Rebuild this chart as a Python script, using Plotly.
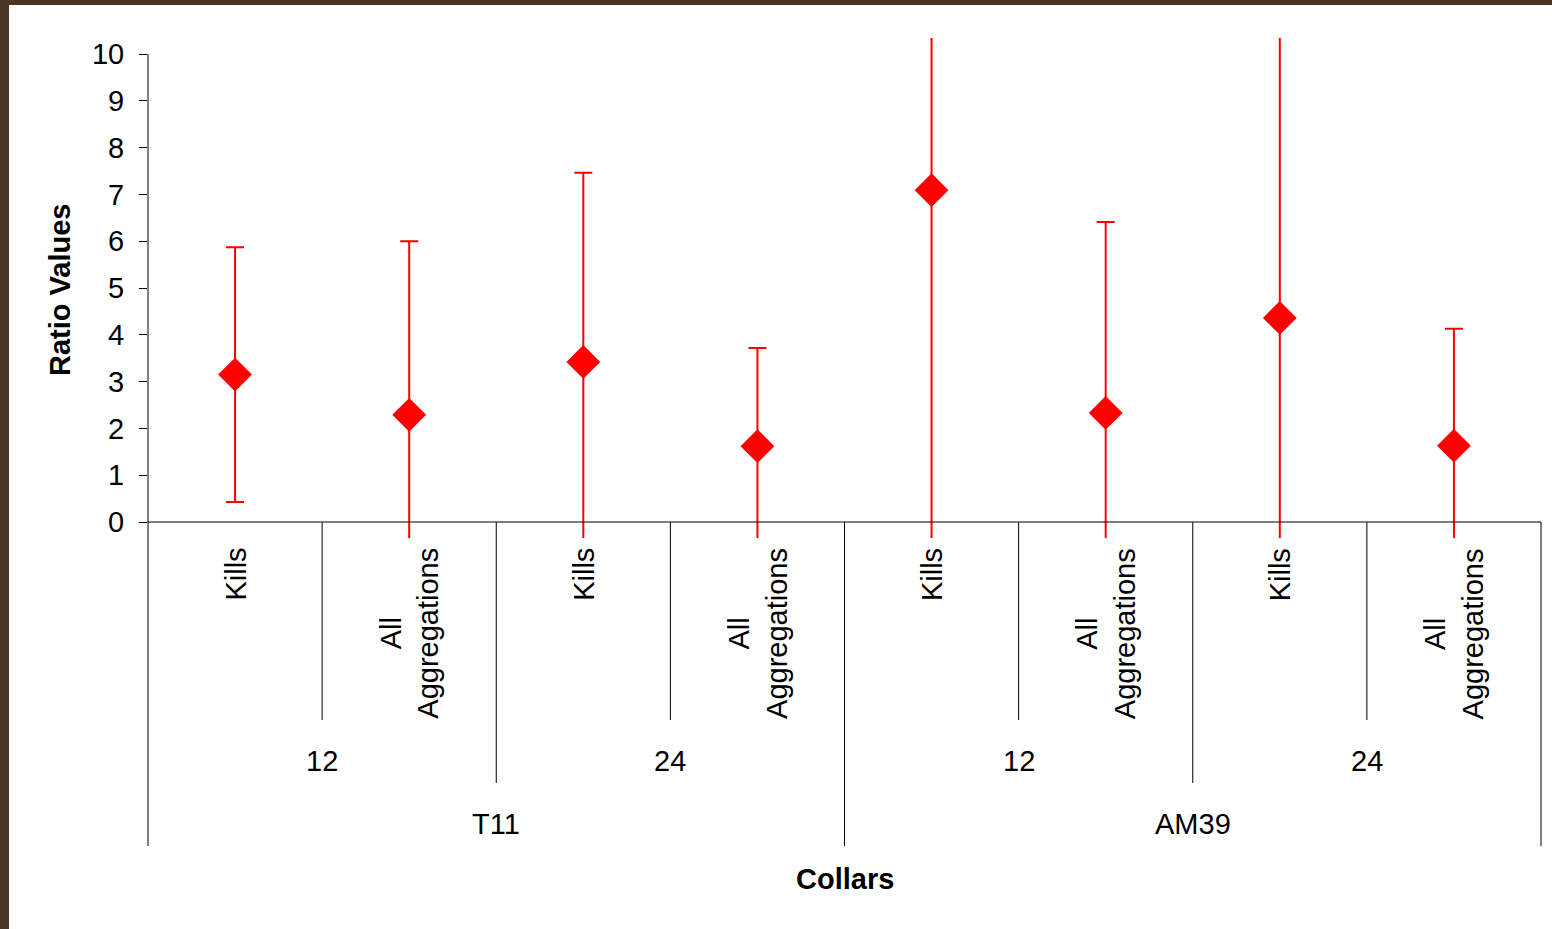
import plotly.graph_objects as go

# ---- data ----
level1 = ["Kills", "All<br>Aggregations", "Kills", "All<br>Aggregations",
          "Kills", "All<br>Aggregations", "Kills", "All<br>Aggregations"]
level2 = ["12", "24", "12", "24"]
level3 = ["T11", "AM39"]
ratio_values = [3.15, 2.29, 3.42, 1.62, 7.09, 2.33, 4.36, 1.63]
error_amounts = [2.72, 3.71, 4.04, 2.10, 8.0, 4.08, 6.5, 2.50]
y_ticks = [0, 1, 2, 3, 4, 5, 6, 7, 8, 9, 10]

# ---- geometry (pixels) ----
W, H = 1552, 929
PL, PR, PT, PB = 148, 1541, 38, 538
FONT = "Liberation Sans, Arial, sans-serif"
RED = "#ff0000"

def px_x(px):
    return (px - PL) / (PR - PL)

def px_y(py):
    return (PB - py) / (PB - PT)

n = len(level1)
xs = list(range(n))

fig = go.Figure()
fig.add_trace(go.Scatter(
    x=xs, y=ratio_values, mode="markers",
    marker=dict(symbol="diamond", size=26, color=RED, line=dict(width=0)),
    error_y=dict(type="data", array=error_amounts, symmetric=True,
                 color=RED, thickness=2, width=9),
    showlegend=False, hoverinfo="y",
))

shapes = []
# white slide area over brown border
shapes.append(dict(type="rect", xref="paper", yref="paper", layer="below",
                   x0=px_x(9), x1=px_x(W + 5), y0=px_y(5), y1=px_y(H + 5),
                   fillcolor="white", line=dict(width=0)))
# y axis line 0..10
shapes.append(dict(type="line", xref="paper", yref="y", x0=0, x1=0,
                   y0=0, y1=max(y_ticks), line=dict(color="black", width=1)))
# x axis line at 0
shapes.append(dict(type="line", xref="paper", yref="y", x0=0, x1=1,
                   y0=0, y1=0, line=dict(color="black", width=1)))

axis0 = 522
bottoms = {1: 720, 2: 783, 3: 846}
for b in range(n + 1):
    if b == 0 or b == n or b == n // 2:
        lvl = 3
    elif b % 2 == 0:
        lvl = 2
    else:
        lvl = 1
    xp = b / n
    shapes.append(dict(type="line", xref="paper", yref="paper",
                       x0=xp, x1=xp, y0=px_y(axis0), y1=px_y(bottoms[lvl]),
                       line=dict(color="black", width=1)))

annotations = []
for i, lab in enumerate(level1):
    annotations.append(dict(x=i, xref="x", y=px_y(546), yref="paper",
                            text=lab, textangle=-90, showarrow=False,
                            xanchor="center", yanchor="top", align="center",
                            font=dict(family=FONT, size=29, color="black")))
for j, lab in enumerate(level2):
    annotations.append(dict(x=2 * j + 0.5, xref="x", y=px_y(761), yref="paper",
                            text=lab, showarrow=False, xanchor="center", yanchor="middle",
                            font=dict(family=FONT, size=29, color="black")))
for k, lab in enumerate(level3):
    annotations.append(dict(x=4 * k + 1.5, xref="x", y=px_y(824), yref="paper",
                            text=lab, showarrow=False, xanchor="center", yanchor="middle",
                            font=dict(family=FONT, size=29, color="black")))
annotations.append(dict(x=0.5, xref="paper", y=px_y(879), yref="paper",
                        text="<b>Collars</b>", showarrow=False,
                        xanchor="center", yanchor="middle",
                        font=dict(family=FONT, size=29, color="black")))
annotations.append(dict(x=px_x(60), xref="paper", y=px_y(290), yref="paper",
                        text="<b>Ratio Values</b>", textangle=-90, showarrow=False,
                        xanchor="center", yanchor="middle",
                        font=dict(family=FONT, size=29, color="black")))

yr0 = -(PB - axis0) / ((axis0 - 54) / 10)
yr1 = 10 + (54 - PT) / ((axis0 - 54) / 10)

fig.update_layout(
    width=W, height=H, autosize=False,
    margin=dict(l=PL, r=W - PR, t=PT, b=H - PB, pad=0),
    paper_bgcolor="#4a3525", plot_bgcolor="white",
    font=dict(family=FONT, size=29, color="black"),
    xaxis=dict(range=[-0.5, n - 0.5], showticklabels=False, showgrid=False,
               zeroline=False, showline=False, ticks=""),
    yaxis=dict(range=[yr0, yr1], tickvals=y_ticks, ticks="outside", ticklen=8,
               tickcolor="black", tickwidth=1, showgrid=False, zeroline=False,
               showline=False, ticklabelstandoff=9,
               tickfont=dict(family=FONT, size=29, color="black")),
    shapes=shapes, annotations=annotations,
)

fig.write_html("out.html", config={"displayModeBar": False},
               post_script="document.body.style.margin='0';document.body.style.overflow='hidden';")
